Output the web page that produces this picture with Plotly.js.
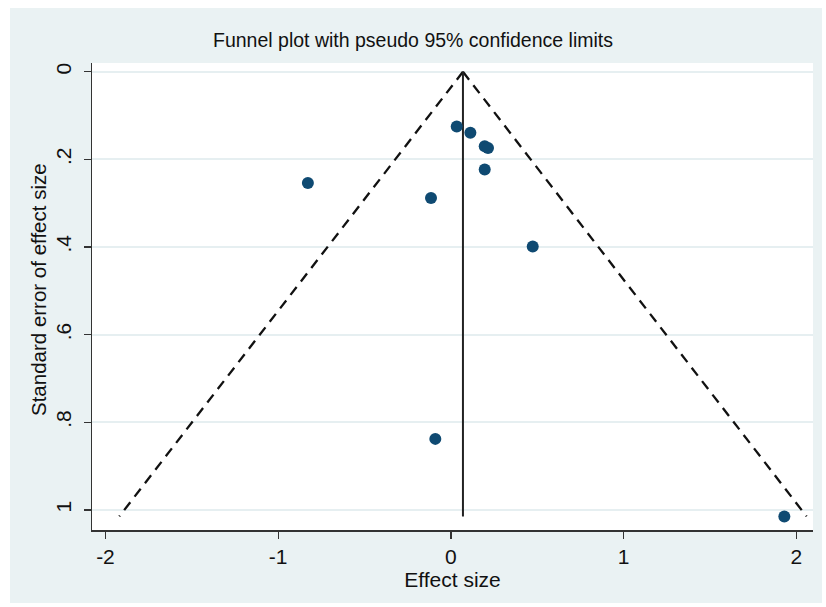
<!DOCTYPE html>
<html>
<head>
<meta charset="utf-8">
<script src="https://cdn.plot.ly/plotly-3.0.1.min.js"></script>
<style>html,body{margin:0;padding:0;background:#fff;}#chart{width:826px;height:607px;}</style>
</head>
<body>
<div id="chart"></div>
<script>
// Study estimates
var effectSize = [0.034, 0.113, 0.196, 0.215, 0.196, -0.828, -0.115, 0.474, -0.09, 1.931];
var stdError   = [0.125, 0.139, 0.170, 0.174, 0.223, 0.254, 0.288, 0.399, 0.838, 1.015];

// Pooled estimate line and pseudo 95% limits (endpoints)
var pooledX = [0.07, 0.07];
var pooledSE = [0, 1.015];
var lowerLimitX = [0.07, -1.92];
var upperLimitX = [0.07, 2.06];
var limitSE = [0, 1.015];

// Tick labels
var xTickVals = [-2, -1, 0, 1, 2];
var xTickText = ['-2', '-1', '0', '1', '2'];
var yTickVals = [0, 0.2, 0.4, 0.6, 0.8, 1];
var yTickText = ['0', '.2', '.4', '.6', '.8', '1'];

var FONT = 'Liberation Sans, Arial, sans-serif';
var navy = '#0f4a72';

var traces = [
  {x: lowerLimitX, y: limitSE, mode: 'lines', line: {color: '#111', width: 2.3, dash: '10px,7px'}, hoverinfo: 'skip'},
  {x: upperLimitX, y: limitSE, mode: 'lines', line: {color: '#111', width: 2.3, dash: '10px,7px'}, hoverinfo: 'skip'},
  {x: pooledX, y: pooledSE, mode: 'lines', line: {color: '#222', width: 2}, hoverinfo: 'skip'},
  {x: effectSize, y: stdError, mode: 'markers', marker: {color: navy, size: 12, line: {width: 0}}}
];

var W = 826, H = 607, ml = 92, mr = 13, mt = 63, mb = 77;
var pw = W - ml - mr, ph = H - mt - mb;
function px(v){ return (v - ml) / pw; }
function py(v){ return (H - mb - v) / ph; }

var layout = {
  width: W, height: H,
  showlegend: false,
  paper_bgcolor: '#ffffff',
  plot_bgcolor: 'rgba(0,0,0,0)',
  margin: {l: ml, r: mr, t: mt, b: mb, pad: 0},
  font: {family: FONT, color: '#111', size: 20},
  title: {text: 'Funnel plot with pseudo 95% confidence limits', font: {family: FONT, size: 19.5, color: '#111'},
          x: 0.5, xref: 'container', y: 1 - 40/H, yref: 'container', xanchor: 'center', yanchor: 'middle'},
  xaxis: {
    range: [-2.078, 2.097],
    tickvals: xTickVals, ticktext: xTickText,
    ticks: 'outside', ticklen: 7, tickwidth: 1.3, tickcolor: '#333',
    showline: true, linecolor: '#333', linewidth: 1.5,
    showgrid: false, zeroline: false,
    tickfont: {family: FONT, size: 21, color: '#111'},
    title: {text: 'Effect size', font: {family: FONT, size: 21, color: '#111'}, standoff: 1}
  },
  yaxis: {
    range: [1.046, -0.02],
    tickvals: yTickVals, ticktext: yTickText, tickangle: -90,
    ticks: 'outside', ticklen: 7, tickwidth: 1.3, tickcolor: '#333',
    showline: true, linecolor: '#333', linewidth: 1.5,
    showgrid: true, gridcolor: '#e6eff1', gridwidth: 2,
    zeroline: false,
    ticklabelstandoff: 4,
    tickfont: {family: FONT, size: 21, color: '#111'}
  },
  annotations: [
    {text: 'Standard error of effect size', xref: 'paper', yref: 'paper',
     x: px(38), y: py(290), xanchor: 'center', yanchor: 'middle', textangle: -90,
     showarrow: false, font: {family: FONT, size: 20.5, color: '#111'}}
  ],
  shapes: [
    {type: 'rect', xref: 'paper', yref: 'paper', layer: 'below',
     x0: px(10), x1: px(822), y0: py(603), y1: py(8), fillcolor: '#eaf2f3', line: {width: 0}},
    {type: 'rect', xref: 'paper', yref: 'paper', layer: 'below',
     x0: 0, x1: 1, y0: 0, y1: 1, fillcolor: '#ffffff', line: {width: 0}}
  ]
};

Plotly.newPlot('chart', traces, layout, {displayModeBar: false, staticPlot: true});
</script>
</body>
</html>
